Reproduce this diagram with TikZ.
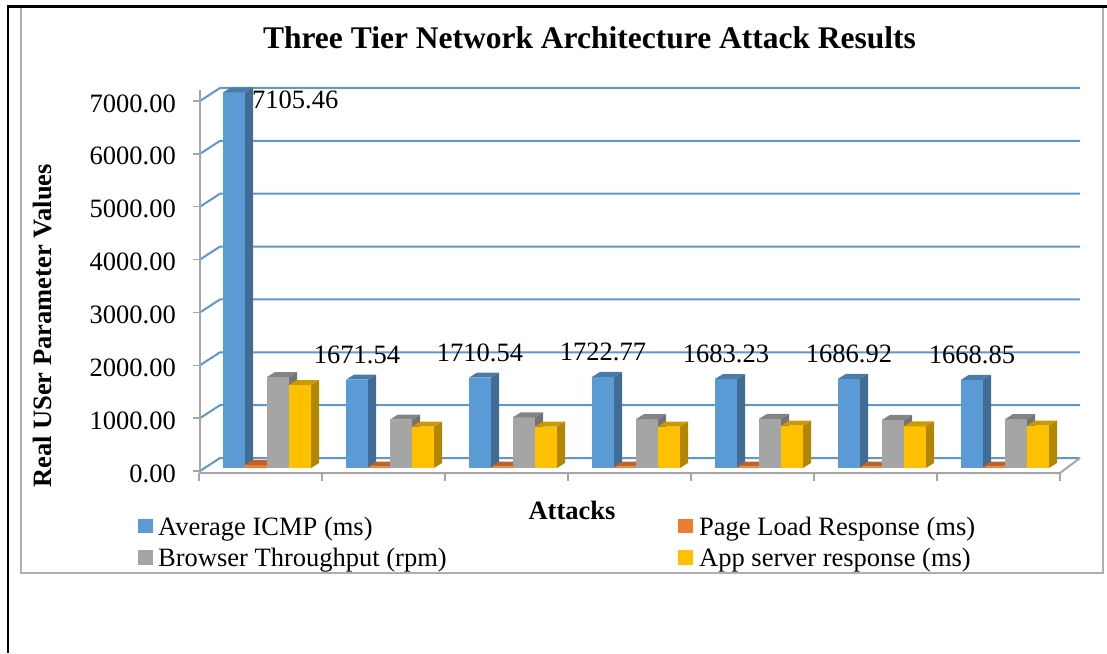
\documentclass[tikz,border=0pt]{standalone}
\usepackage{fontspec}
\setmainfont{Liberation Serif}
\usepackage{xcolor}
\definecolor{barblue}{RGB}{91,155,213}
\definecolor{barorange}{RGB}{237,125,49}
\definecolor{bargray}{RGB}{165,165,165}
\definecolor{baryellow}{RGB}{255,192,0}
\definecolor{gridblue}{RGB}{96,150,208}
\definecolor{axisgray}{RGB}{166,166,166}

% one 3d column: left edge, value, colour
\newcommand{\drawbar}[3]{%
	\pgfmathsetmacro{\bt}{468-#2*0.05286}
	\fill[#3] (#1,468) rectangle (#1+22,\bt);
	\fill[#3!70!black] (#1+22,468) -- (#1+30,463) -- (#1+30,\bt-5) -- (#1+22,\bt) -- cycle;
	\fill[#3!80!black] (#1,\bt) -- (#1+8,\bt-5) -- (#1+30,\bt-5) -- (#1+22,\bt) -- cycle;
}

\begin{document}
\begin{tikzpicture}[x=1pt,y=-1pt,
	txt/.style={font=\fontsize{26.5}{30}\selectfont,inner sep=0pt,text=black},
	btxt/.style={font=\fontsize{26.5}{30}\selectfont\bfseries,inner sep=0pt,text=black},
	grid/.style={gridblue,line width=2pt},
	ax/.style={axisgray,line width=2pt}]
	\useasboundingbox (0,0) rectangle (1107,653);

	\draw[axisgray!90,line width=2pt] (21,7) rectangle (1103,573);
	\draw[black,line width=2.5pt] (8,653) -- (8,6.5) -- (1107,6.5);

	\node(title) at (589.5,48)[anchor=base,inner sep=0pt,font=\fontsize{31.5}{36}\selectfont\bfseries]{Three Tier Network Architecture Attack Results};
	\node(ylab) at (51,326)[btxt,anchor=base,rotate=90]{Real USer Parameter Values};
	\node(xlab) at (572,519)[btxt,anchor=base]{Attacks};

	\foreach \k/\lab in {0/0.00,1/1000.00,2/2000.00,3/3000.00,4/4000.00,5/5000.00,6/6000.00,7/7000.00}{
		\draw[grid] (200,{471-52.86*\k}) -- (220,{458-52.86*\k}) -- (1080,{458-52.86*\k});
		\draw[axisgray,line width=1.5pt] (193,{471-52.86*\k}) -- (200,{471-52.86*\k});
		\node(tick\k) at (176,{473.5-52.86*\k})[txt,anchor=east]{\lab};
	}
	\draw[ax] (200,90) -- (200,473);
	\draw[ax] (199,473) -- (1060,473) -- (1080,458);
	\foreach \i in {0,...,7}
		\draw[axisgray,line width=1.5pt] ({199+123*\i},473) -- ({199+123*\i},481);

	\foreach \icmp/\page/\thru/\app [count=\i from 0] in {7105.46/60/1721/1570,1671.54/25/917/781,1710.54/25/960/781,1722.77/25/925/785,1683.23/25/930/800,1686.92/25/910/790,1668.85/25/925/800}{
		\pgfmathsetmacro{\xo}{199+123*\i}
		\drawbar{\xo+24}{\icmp}{barblue}
		\drawbar{\xo+46}{\page}{barorange}
		\drawbar{\xo+68}{\thru}{bargray}
		\drawbar{\xo+90}{\app}{baryellow}
		\ifnum\i>0
			\node(val\i) at (\xo+35,{468-\icmp*0.05286-25})[txt]{\icmp};
		\fi
	}
	\node(val0) at (252,100)[txt,anchor=west]{7105.46};

	\fill[barblue] (138,519) rectangle (153,533);
	\node(leg1) at (158,535)[txt,anchor=base west]{Average ICMP (ms)};
	\fill[bargray] (138,550) rectangle (153,565);
	\node(leg2) at (158,566)[txt,anchor=base west]{Browser Throughput (rpm)};
	\fill[barorange] (678,519) rectangle (693,533);
	\node(leg3) at (699,535)[txt,anchor=base west]{Page Load Response (ms)};
	\fill[baryellow] (678,550) rectangle (693,565);
	\node(leg4) at (699,566)[txt,anchor=base west]{App server response (ms)};
\end{tikzpicture}
\end{document}
